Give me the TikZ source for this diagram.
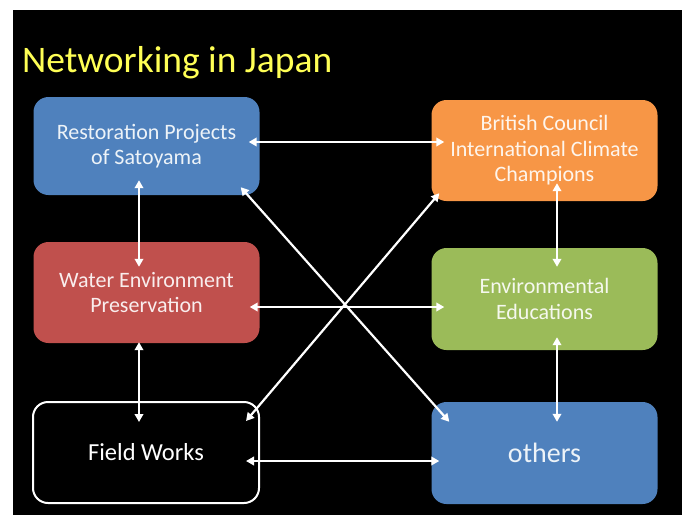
\documentclass[tikz,border=0pt]{standalone}
\usepackage{fontspec}
\setmainfont{Carlito}
\usetikzlibrary{arrows.meta}
\definecolor{boxblue}{HTML}{4F81BD}
\definecolor{boxorange}{HTML}{F79646}
\definecolor{boxred}{HTML}{C0504D}
\definecolor{boxgreen}{HTML}{9BBB59}
\definecolor{titleyellow}{HTML}{FFFF55}
\tikzset{
  topic/.style={rounded corners=15pt, minimum width=226pt, minimum height=100pt,
    align=center, inner sep=0pt, font=\fontsize{22}{25.5}\selectfont},
  filled/.style={topic, fill=#1, text=white!90!#1},
  outlined/.style={topic, draw=white, line width=2pt, fill=black, text=white},
  link/.style={draw=white, line width=2.2pt,
    {Triangle[length=8pt,width=8.5pt]}-{Triangle[length=8pt,width=8.5pt]}}
}
\begin{document}
\begin{tikzpicture}[x=1pt,y=-1pt]
  \useasboundingbox (0,0) rectangle (687,515);
  \fill[white] (0,0) rectangle (687,515);
  \fill[black] (13,10) rectangle (682,515);

  \node[anchor=base west, text=titleyellow, inner sep=0pt,
        font=\fontsize{37.5}{40}\selectfont] (title) at (22,72) {Networking in Japan};

  \node[filled=boxblue, minimum height=98pt] (rest) at (146.5,146) {Restoration Projects\\of Satoyama};
  \node[filled=boxorange, minimum height=101pt] (brit) at (544.5,150.5) {British Council\\International Climate\\Champions};
  \node[filled=boxred, minimum height=101pt] (water) at (146.5,292.5) {Water Environment\\Preservation};
  \node[filled=boxgreen, minimum height=102pt] (env) at (544.5,299) {Environmental\\Educations};
  \node[outlined, minimum height=101pt, font=\fontsize{24.5}{28}\selectfont] (field) at (146,452.5) {Field Works};
  \node[filled=boxblue, minimum height=102pt, font=\fontsize{28}{32}\selectfont] (others) at (544.5,453) {others};

  % horizontal links
  \draw[link] ([xshift=-11pt,yshift=4pt]rest.east) -- ([xshift=13pt,yshift=8.5pt]brit.west);
  \draw[link] ([xshift=-10pt,yshift=-14.5pt]water.east) -- ([xshift=13pt,yshift=-8pt]env.west);
  \draw[link] ([xshift=-14pt,yshift=-8.5pt]field.east) -- ([xshift=8pt,yshift=-8pt]others.west);
  % vertical links
  \draw[link] ([xshift=-7.5pt,yshift=15pt]rest.south) -- ([xshift=-7.5pt,yshift=-25pt]water.north);
  \draw[link] ([xshift=-7.5pt,yshift=1pt]water.south) -- ([xshift=-7pt,yshift=-21pt]field.north);
  \draw[link] ([xshift=12.5pt,yshift=18pt]brit.south) -- ([xshift=12.5pt,yshift=-19pt]env.north);
  \draw[link] ([xshift=12.5pt,yshift=13pt]env.south) -- ([xshift=12.5pt,yshift=-20pt]others.north);
  % crossing links
  \draw[link] ([xshift=-19pt,yshift=8pt]rest.south east) -- ([xshift=18pt,yshift=-20pt]others.north west);
  \draw[link] ([xshift=8pt,yshift=8pt]brit.south west) -- ([xshift=-14pt,yshift=-20pt]field.north east);
\end{tikzpicture}
\end{document}
